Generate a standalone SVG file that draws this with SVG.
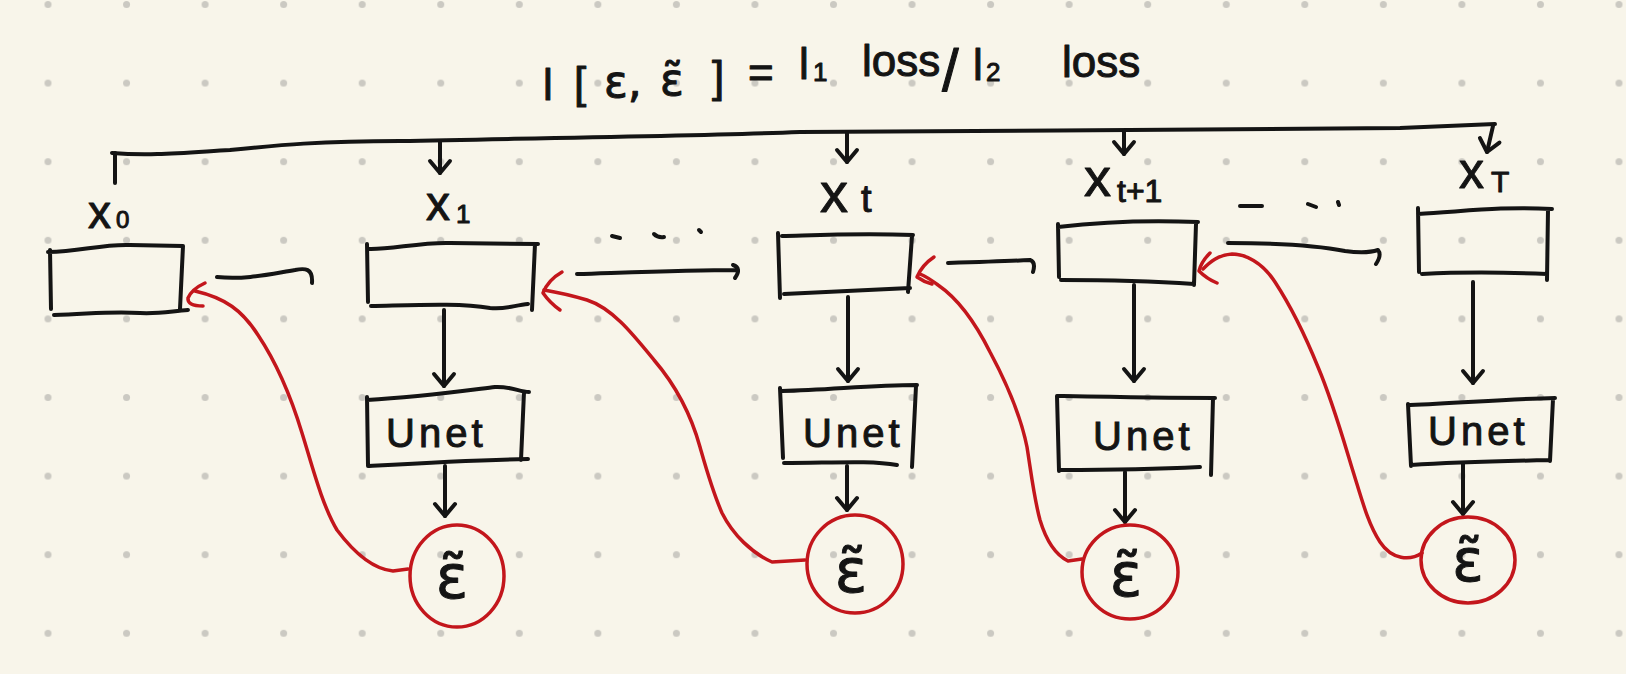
<svg xmlns="http://www.w3.org/2000/svg" width="1626" height="674" viewBox="0 0 1626 674">
<style>
.ink{fill:none;stroke:#141414;stroke-width:4;stroke-linecap:round;stroke-linejoin:round}
.red{fill:none;stroke:#c3161c;stroke-width:3.5;stroke-linecap:round;stroke-linejoin:round}
.t{font-family:"Liberation Sans","DejaVu Sans",sans-serif;fill:#141414;stroke:#141414;stroke-width:1;stroke-linejoin:round}
.eps{font-family:"DejaVu Sans","Liberation Sans",sans-serif;fill:#141414;stroke:#141414;stroke-width:1;stroke-linejoin:round}
.unet{font-family:"Liberation Sans","DejaVu Sans",sans-serif;fill:#141414;stroke:#141414;stroke-width:1;font-size:40px;letter-spacing:4px}
</style>
<defs>
<pattern id="dots" x="8.7" y="-34.8" width="78.55" height="78.6" patternUnits="userSpaceOnUse">
<circle cx="39.3" cy="39.3" r="3.5" fill="#cbc9c2"/>
</pattern>
<marker id="ah" markerUnits="userSpaceOnUse" markerWidth="32" markerHeight="32" viewBox="-16 -16 32 32" refX="0" refY="0" orient="auto">
<path d="M -12 -10 L 0 0 L -12 10" fill="none" stroke="#141414" stroke-width="4" stroke-linecap="round" stroke-linejoin="round"/>
</marker>
</defs>
<rect width="1626" height="674" fill="#f8f5ea"/>
<rect width="1626" height="674" fill="url(#dots)"/>

<g id="title">
<text class="t" font-size="44">
<tspan x="543" y="100">l</tspan>
<tspan x="574" y="98">[</tspan>
<tspan class="eps" x="604" y="97">ε,</tspan>
<tspan class="eps" x="660" y="95">ε̃</tspan>
<tspan x="712" y="92">]</tspan>
<tspan x="748" y="88">=</tspan>
<tspan x="799" y="79">l</tspan><tspan font-size="26" x="813" y="81">1</tspan>
<tspan x="862" y="76">loss</tspan>
<tspan font-size="60" x="942" y="91">/</tspan>
<tspan x="973" y="80">l</tspan><tspan font-size="26" x="986" y="81">2</tspan>
<tspan x="1062" y="77">loss</tspan>
</text>
</g>

<g id="connectors">
<path class="ink" d="M 112 153 C 150 156 180 153 230 150 C 280 145 320 141 400 141 C 550 138 700 136 800 132 C 1000 130 1200 131 1400 128 L 1495 124"/>
<path class="ink" d="M 115 153 L 115 183"/>
<path class="ink" marker-end="url(#ah)" d="M 440 142 L 440 173"/>
<path class="ink" marker-end="url(#ah)" d="M 847 133 L 847 162"/>
<path class="ink" marker-end="url(#ah)" d="M 1124 131 L 1124 154"/>
<path class="ink" marker-end="url(#ah)" d="M 1493 126 L 1487 152"/>

<path class="ink" d="M 217 277 C 245 280 270 274 295 270 C 305 268 313 268 312 283"/>
<path class="ink" d="M 577 274 C 640 272 690 270 736 270 M 733 265 Q 742 268 735 278"/>
<path class="ink" d="M 948 263 C 980 262 1010 261 1030 260 Q 1036 262 1033 272"/>
<path class="ink" d="M 1228 243 C 1280 243 1320 246 1345 251 C 1360 253 1372 252 1378 250 Q 1382 255 1376 264"/>
<path class="ink" d="M 612 236 L 620 238 M 654 234 Q 658 238 664 237 M 699 230 L 701 232"/>
<path class="ink" d="M 1240 206 L 1262 206 M 1308 204 L 1316 207 M 1338 202 L 1339 205"/>

<path class="ink" marker-end="url(#ah)" d="M 444 310 L 444 386"/>
<path class="ink" marker-end="url(#ah)" d="M 848 297 L 848 381"/>
<path class="ink" marker-end="url(#ah)" d="M 1134 285 L 1134 381"/>
<path class="ink" marker-end="url(#ah)" d="M 1473 282 L 1473 383"/>
<path class="ink" marker-end="url(#ah)" d="M 445 466 L 445 516"/>
<path class="ink" marker-end="url(#ah)" d="M 847 466 L 847 510"/>
<path class="ink" marker-end="url(#ah)" d="M 1125 472 L 1125 522"/>
<path class="ink" marker-end="url(#ah)" d="M 1463 463 L 1463 514"/>

<path class="red" d="M 408 569 L 393 571 C 372 569 352 550 337 530 C 322 505 312 465 302 433 C 292 400 278 365 258 335 C 242 310 225 298 195 291"/>
<path class="red" d="M 205 283 Q 192 289 188 298 Q 187 306 203 306"/>
<path class="red" d="M 805 560 L 772 562 C 752 553 733 535 722 513 C 712 490 706 468 700 447 C 692 418 678 388 654 360 C 632 333 612 308 587 300 C 570 295 556 292 544 290"/>
<path class="red" d="M 562 272 Q 548 280 543 293 Q 550 303 560 310"/>
<path class="red" d="M 1082 559 L 1068 561 C 1056 555 1046 540 1040 520 C 1034 498 1031 472 1027 447 C 1020 412 1005 380 990 352 C 975 322 957 298 938 285 C 930 279 925 276 920 274"/>
<path class="red" d="M 934 257 Q 922 265 917 277 Q 924 282 932 284"/>
<path class="red" d="M 1422 553 C 1410 561 1392 560 1380 542 C 1368 524 1362 500 1352 468 C 1342 435 1332 400 1318 367 C 1305 335 1290 305 1275 282 C 1262 262 1245 254 1232 254 C 1218 255 1210 262 1203 269"/>
<path class="red" d="M 1210 253 Q 1201 262 1199 271 Q 1207 279 1217 283"/>
</g>

<g id="node-x0">
<path class="ink" d="M 48 252 C 80 252 100 244 130 245 L 183 246 M 183 246 L 180 309 M 50 250 L 51 309 M 54 315 C 90 314 110 311 140 313 C 160 314 172 311 188 310"/>
<text class="t" font-size="46" x="88" y="228">x<tspan font-size="24" x="116" y="228">0</tspan></text>
</g>
<g id="node-x1">
<path class="ink" d="M 368 249 C 390 250 420 242 450 243 L 538 244 M 535 244 L 532 310 M 367 244 L 368 302 M 371 306 C 420 305 460 303 490 308 C 505 310 515 305 528 304"/>
<text class="t" font-size="48" x="426" y="220">x<tspan font-size="26" x="456" y="223">1</tspan></text>
</g>
<g id="node-xt">
<path class="ink" d="M 782 236 C 820 235 860 233 913 235 M 912 236 L 908 292 M 778 233 L 780 298 M 784 294 C 830 292 870 290 910 288"/>
<text class="t" font-size="56" x="820" y="212">x<tspan font-size="38" x="861" y="212">t</tspan></text>
</g>
<g id="node-xt1">
<path class="ink" d="M 1058 227 C 1100 222 1150 220 1198 222 M 1196 224 L 1194 285 M 1058 224 L 1059 277 M 1061 280 C 1100 280 1150 281 1194 284"/>
<text class="t" font-size="54" x="1084" y="196">x<tspan font-size="32" x="1117" y="202">t+1</tspan></text>
</g>
<g id="node-xT">
<path class="ink" d="M 1418 214 C 1460 212 1500 206 1552 209 M 1548 210 L 1547 280 M 1418 208 L 1419 272 M 1422 274 C 1460 272 1500 272 1547 274"/>
<text class="t" font-size="50" x="1459" y="188">x<tspan font-size="30" x="1491" y="192">T</tspan></text>
</g>

<g id="unet-1">
<path class="ink" d="M 367 400 C 420 397 470 390 495 387 C 510 386 520 392 529 392 M 524 392 L 521 460 M 367 397 L 368 466 M 369 466 C 420 463 470 460 528 459"/>
<text class="unet" x="386" y="447">Unet</text>
</g>
<g id="unet-t">
<path class="ink" d="M 782 391 C 830 390 870 385 917 385 M 916 386 L 912 467 M 780 388 L 783 458 M 784 463 C 830 463 870 460 897 465"/>
<text class="unet" x="803" y="447">Unet</text>
</g>
<g id="unet-t1">
<path class="ink" d="M 1058 396 C 1110 397 1160 398 1215 398 M 1213 398 L 1211 475 M 1057 396 L 1059 471 M 1061 470 C 1110 470 1160 469 1200 467"/>
<text class="unet" x="1093" y="450">Unet</text>
</g>
<g id="unet-T">
<path class="ink" d="M 1410 405 C 1460 403 1510 399 1555 398 M 1553 399 L 1550 461 M 1408 404 L 1411 466 M 1411 465 C 1460 462 1510 461 1550 460"/>
<text class="unet" x="1428" y="445">Unet</text>
</g>

<g id="eps-1">
<ellipse class="red" cx="457" cy="576" rx="47" ry="51"/>
<text class="eps" font-size="60" text-anchor="middle" x="452" y="598">ε̃</text>
</g>
<g id="eps-t">
<ellipse class="red" cx="855" cy="564" rx="48" ry="49"/>
<text class="eps" font-size="60" text-anchor="middle" x="851" y="592">ε̃</text>
</g>
<g id="eps-t1">
<ellipse class="red" cx="1130" cy="572" rx="48" ry="47"/>
<text class="eps" font-size="60" text-anchor="middle" x="1126" y="596">ε̃</text>
</g>
<g id="eps-T">
<ellipse class="red" cx="1468" cy="560" rx="47" ry="43"/>
<text class="eps" font-size="58" text-anchor="middle" x="1468" y="581">ε̃</text>
</g>
</svg>
